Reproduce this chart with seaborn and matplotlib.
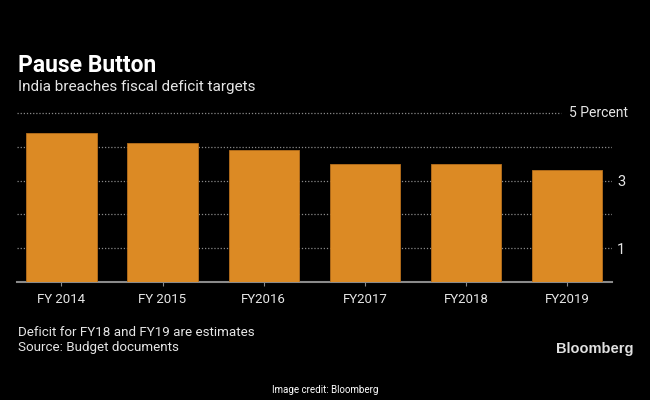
import matplotlib
matplotlib.use("Agg")
import matplotlib.pyplot as plt
import seaborn as sns
import pandas as pd

# values (percent of GDP)
years = ["FY 2014", "FY 2015", "FY2016", "FY2017", "FY2018", "FY2019"]
deficit = [4.4, 4.1, 3.9, 3.5, 3.5, 3.3]
ytick_vals = [1, 2, 3, 4, 5]
ytick_labels = ["1", "", "3", "", ""]

BG = "black"
BAR = "#DC8A24"
GRID = "#8a8a8a"
TXT = "#e6e6e6"

sns.set_theme(style="dark")
plt.rcParams["font.family"] = ["Roboto", "DejaVu Sans"]

df = pd.DataFrame({"year": years, "deficit": deficit})

fig = plt.figure(figsize=(6.5, 4), dpi=100, facecolor=BG)
ax = fig.add_axes([0.026, 0.295, 0.915, 0.4225])
ax.set_facecolor(BG)

sns.barplot(data=df, x="year", y="deficit", color=BAR, width=0.695,
            saturation=1, edgecolor="#b8701c", linewidth=0.6, ax=ax, zorder=3)

ax.set_xlim(-0.44, 5.44)
ax.set_ylim(0, 5)
ax.set_xlabel("")
ax.set_ylabel("")

# dotted gridlines; the top one stops short of the "5 Percent" label
for v in ytick_vals[:-1]:
    ax.axhline(v, color=GRID, lw=0.9, ls=(0, (1, 1.5)), zorder=1)
ax.axhline(5, xmin=0, xmax=0.915, color=GRID, lw=0.9, ls=(0, (1, 1.5)),
           clip_on=False, zorder=1)
ax.grid(False)

ax.yaxis.tick_right()
ax.set_yticks(ytick_vals)
ax.set_yticklabels(ytick_labels)
ax.tick_params(axis="y", length=0, pad=4, labelcolor=TXT, labelsize=10.5)
ax.tick_params(axis="x", length=3, width=0.8, color=GRID, pad=5,
               labelcolor=TXT, labelsize=9.5, direction="out", bottom=True)
ax.text(0.929, 5, "5 Percent", transform=ax.get_yaxis_transform(),
        color=TXT, fontsize=10, va="center", ha="left")

for side in ["top", "right", "left"]:
    ax.spines[side].set_visible(False)
ax.spines["bottom"].set_color(GRID)
ax.spines["bottom"].set_linewidth(1.5)

fig.text(0.027, 0.837, "Pause Button", color="white", fontsize=16.5,
         fontweight="bold", va="center", ha="left")
fig.text(0.027, 0.782, "India breaches fiscal deficit targets", color=TXT,
         fontsize=11, va="center", ha="left")
fig.text(0.027, 0.170, "Deficit for FY18 and FY19 are estimates", color=TXT,
         fontsize=9.6, va="center", ha="left")
fig.text(0.027, 0.131, "Source: Budget documents", color=TXT,
         fontsize=9.6, va="center", ha="left")
fig.text(0.974, 0.127, "Bloomberg", color="#e0e0e0", fontsize=10.5,
         fontweight="bold", va="center", ha="right",
         family=["Liberation Sans", "DejaVu Sans"])
fig.text(0.5, 0.025, "Image credit: Bloomberg", color="white", fontsize=7,
         va="center", ha="center")

fig.savefig("out.png", dpi=100, facecolor=BG)
